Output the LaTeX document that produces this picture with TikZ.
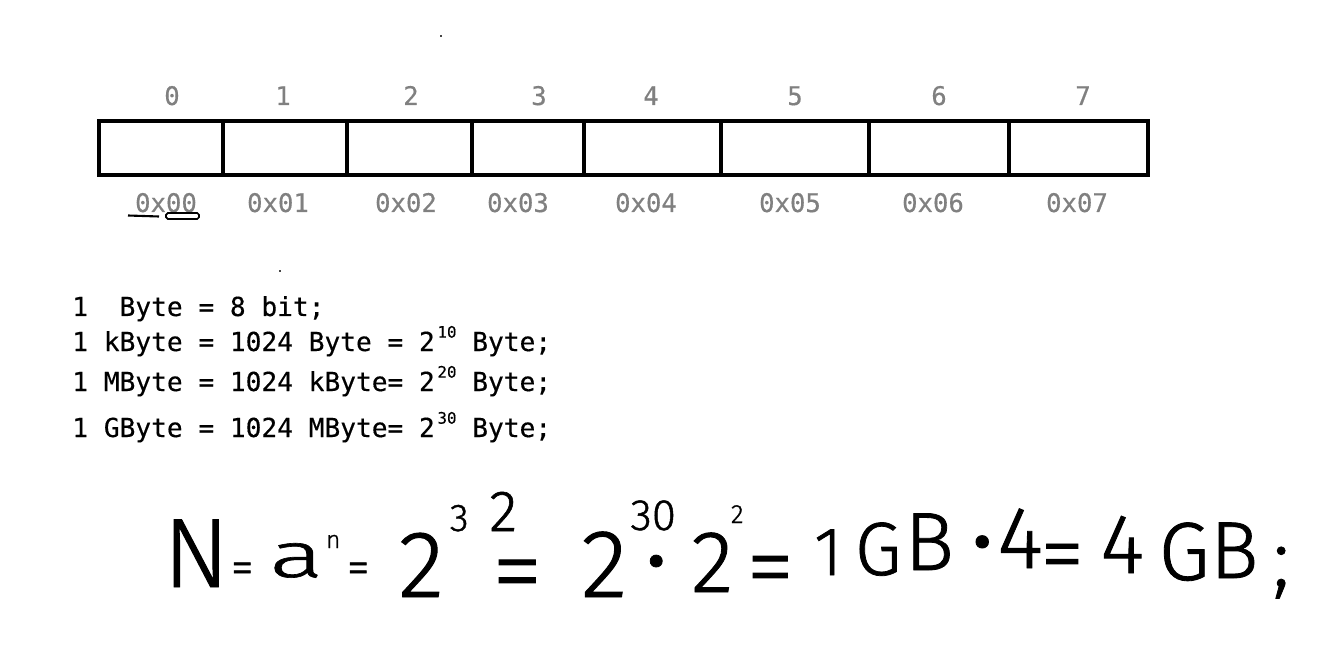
\documentclass[tikz,border=0pt]{standalone}
\usepackage{fontspec}
\newfontfamily\cellfont[FakeBold=0.4]{DejaVu Sans Mono}
\newfontfamily\handfont[FakeBold=1]{Fira Sans Light}
\definecolor{labelgray}{RGB}{128,128,128}
\definecolor{specgray}{RGB}{70,70,70}
\newdimen\pxu \pxu=0.02cm
\newcommand{\pow}[1]{\kern1.5pt\raisebox{7.6pt}{\fontsize{9}{9}\selectfont #1}}
% one handwritten glyph: centre x, lift above the base line, size, text
\newcommand{\glyph}[4]{\rlap{\kern#1\pxu\makebox[0pt][c]{\raisebox{#2\pxu}{\fontsize{#3}{#3}\selectfont #4}}}}

\begin{document}
\begin{tikzpicture}[x=0.02cm, y=-0.02cm,
		cellline/.style={line width=2.55pt},
		idx/.style={anchor=base, inner sep=0pt, text=labelgray, font={\cellfont\fontsize{14.6}{17}\selectfont}},
		addr/.style={idx},
		unit/.style={anchor=base west, inner sep=0pt, font={\cellfont\fontsize{14.9}{17}\selectfont}},
		hand/.style={anchor=base west, inner sep=0pt, font=\handfont}]
		\useasboundingbox (0,0) rectangle (1332,662);
		% memory cells
		\draw [cellline] (99,121) rectangle (1148,175);
		\foreach \x in {223,347,472,584,721,869,1009}
		\draw [cellline] (\x,121)--(\x,175);
		\foreach \i/\xn/\xh in {0/172/166,1/283/278,2/411/406,3/539/518,4/651/646,5/795/790,6/939/933,7/1083/1077}
		{
			\node [idx] (n\i) at (\xn,105) {\i};
			\node [addr] (a\i) at (\xh,212) {0x0\i};
		}
		\draw [line width=1.2pt] (128,215.5)--(159,216.5);
		\draw [line width=1pt, rounded corners=1pt] (166,213) rectangle (199,219);
		\fill [specgray] (440,35) rectangle (442,37);
		\fill [specgray] (279,270) rectangle (281,272);
		% units
		\node [unit] (u1) at (72,316) {1~~Byte = 8 bit;};
		\node [unit] (u2) at (72,351) {1 kByte = 1024 Byte = 2\pow{10} Byte;};
		\node [unit] (u3) at (72,391) {1 MByte = 1024 kByte= 2\pow{20} Byte;};
		\node [unit] (u4) at (72,437) {1 GByte = 1024 MByte= 2\pow{30} Byte;};
		% handwritten formula
		\node [hand] (formula) at (0,587) {\foreach \px/\py/\sz/\ch in {195/0/56/N,241/4/26/=,295/10/36/\scalebox{1.6}[1]{a},332/39/14/n,357/4/26/=,420/-10/54/2,458/56/22/3,502/56/33/2,516/-18/58/=,603/-10/55/2,652/57/25/30,655/-2/46/•,711/-5/50/2,736/64/15/2,769/-12/55/=,827/12/39/1,877/12/43/G,928/17/47/B,981/16/48/•,1019/19/50/4,1061/4/50/=,1121/14/48/4,1183/7/47/G,1233/9/46/B,1280/1/47/;}{\glyph{\px}{\py}{\sz}{\ch}}\hspace{1295\pxu}};
\end{tikzpicture}
\end{document}
